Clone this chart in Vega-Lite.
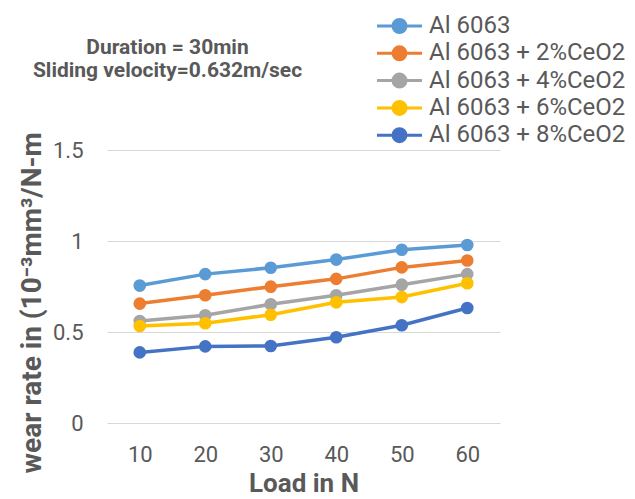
{
  "$schema": "https://vega.github.io/schema/vega-lite/v6.json",
  "width": 393,
  "height": 273,
  "autosize": {"type": "none"},
  "padding": {"left": 107, "top": 150, "right": 135, "bottom": 76},
  "background": "white",
  "title": {
    "text": "Duration = 30min",
    "subtitle": "Sliding velocity=0.632m/sec",
    "anchor": "middle",
    "dx": -136,
    "offset": -67,
    "font": "Roboto",
    "fontSize": 21,
    "fontWeight": "bold",
    "color": "#595959",
    "subtitleFont": "Roboto",
    "subtitleFontSize": 21,
    "subtitleFontWeight": "bold",
    "subtitleColor": "#595959",
    "subtitlePadding": 2
  },
  "data": {
    "values": [
      {"series": "Al 6063", "load": 10, "rate": 0.755},
      {"series": "Al 6063", "load": 20, "rate": 0.818},
      {"series": "Al 6063", "load": 30, "rate": 0.853},
      {"series": "Al 6063", "load": 40, "rate": 0.898},
      {"series": "Al 6063", "load": 50, "rate": 0.952},
      {"series": "Al 6063", "load": 60, "rate": 0.978},
      {"series": "Al 6063 + 2%CeO2", "load": 10, "rate": 0.656},
      {"series": "Al 6063 + 2%CeO2", "load": 20, "rate": 0.702},
      {"series": "Al 6063 + 2%CeO2", "load": 30, "rate": 0.749},
      {"series": "Al 6063 + 2%CeO2", "load": 40, "rate": 0.792},
      {"series": "Al 6063 + 2%CeO2", "load": 50, "rate": 0.855},
      {"series": "Al 6063 + 2%CeO2", "load": 60, "rate": 0.893},
      {"series": "Al 6063 + 4%CeO2", "load": 10, "rate": 0.56},
      {"series": "Al 6063 + 4%CeO2", "load": 20, "rate": 0.592},
      {"series": "Al 6063 + 4%CeO2", "load": 30, "rate": 0.652},
      {"series": "Al 6063 + 4%CeO2", "load": 40, "rate": 0.702},
      {"series": "Al 6063 + 4%CeO2", "load": 50, "rate": 0.76},
      {"series": "Al 6063 + 4%CeO2", "load": 60, "rate": 0.818},
      {"series": "Al 6063 + 6%CeO2", "load": 10, "rate": 0.533},
      {"series": "Al 6063 + 6%CeO2", "load": 20, "rate": 0.548},
      {"series": "Al 6063 + 6%CeO2", "load": 30, "rate": 0.595},
      {"series": "Al 6063 + 6%CeO2", "load": 40, "rate": 0.663},
      {"series": "Al 6063 + 6%CeO2", "load": 50, "rate": 0.692},
      {"series": "Al 6063 + 6%CeO2", "load": 60, "rate": 0.768},
      {"series": "Al 6063 + 8%CeO2", "load": 10, "rate": 0.388},
      {"series": "Al 6063 + 8%CeO2", "load": 20, "rate": 0.421},
      {"series": "Al 6063 + 8%CeO2", "load": 30, "rate": 0.423},
      {"series": "Al 6063 + 8%CeO2", "load": 40, "rate": 0.471},
      {"series": "Al 6063 + 8%CeO2", "load": 50, "rate": 0.537},
      {"series": "Al 6063 + 8%CeO2", "load": 60, "rate": 0.632}
    ]
  },
  "mark": {"type": "line", "strokeWidth": 3.5, "point": {"filled": true, "size": 160, "opacity": 1}},
  "encoding": {
    "x": {
      "field": "load",
      "type": "ordinal",
      "scale": {"padding": 0.5},
      "axis": {
        "title": "Load in N",
        "labelAngle": 0,
        "labelFont": "Roboto",
        "labelFontSize": 22,
        "labelColor": "#595959",
        "labelPadding": 21,
        "ticks": false,
        "domain": false,
        "grid": false,
        "titleFont": "Roboto",
        "titleFontSize": 26,
        "titleFontWeight": "bold",
        "titleColor": "#595959",
        "titlePadding": 5
      }
    },
    "y": {
      "field": "rate",
      "type": "quantitative",
      "scale": {"domain": [0, 1.5]},
      "axis": {
        "values": [0, 0.5, 1, 1.5],
        "format": "~g",
        "title": "wear rate in (10⁻³mm³/N-m",
        "labelFont": "Roboto",
        "labelFontSize": 22,
        "labelColor": "#595959",
        "labelPadding": 24,
        "ticks": false,
        "domain": false,
        "grid": true,
        "gridColor": "#d9d9d9",
        "gridWidth": 1,
        "titleFont": "Roboto",
        "titleFontSize": 28,
        "titleFontWeight": "bold",
        "titleColor": "#595959",
        "titleAngle": 270,
        "titleAlign": "left",
        "titleBaseline": "middle",
        "titleX": -75,
        "titleY": 323
      }
    },
    "color": {
      "field": "series",
      "type": "nominal",
      "scale": {
        "domain": ["Al 6063", "Al 6063 + 2%CeO2", "Al 6063 + 4%CeO2", "Al 6063 + 6%CeO2", "Al 6063 + 8%CeO2"],
        "range": ["#5B9BD5", "#ED7D31", "#A5A5A5", "#FFC000", "#4472C4"]
      },
      "legend": {
        "title": null,
        "orient": "none",
        "legendX": 280.5,
        "legendY": -136,
        "symbolType": "M-4.5,0L4.5,0M-1.3,0A1.3,1.3 0 1,1 1.3,0A1.3,1.3 0 1,1 -1.3,0Z",
        "symbolSize": 100,
        "symbolStrokeWidth": 3,
        "labelFont": "Roboto",
        "labelFontSize": 24,
        "labelColor": "#595959",
        "labelOffset": 17.5,
        "rowPadding": 1.3,
        "labelLimit": 300,
        "encode": {
          "symbols": {
            "update": {
              "fill": {"scale": "color", "field": "value"},
              "stroke": {"scale": "color", "field": "value"},
              "strokeWidth": {"value": 3},
              "opacity": {"value": 1}
            }
          }
        }
      }
    }
  },
  "config": {"view": {"stroke": null}}
}
